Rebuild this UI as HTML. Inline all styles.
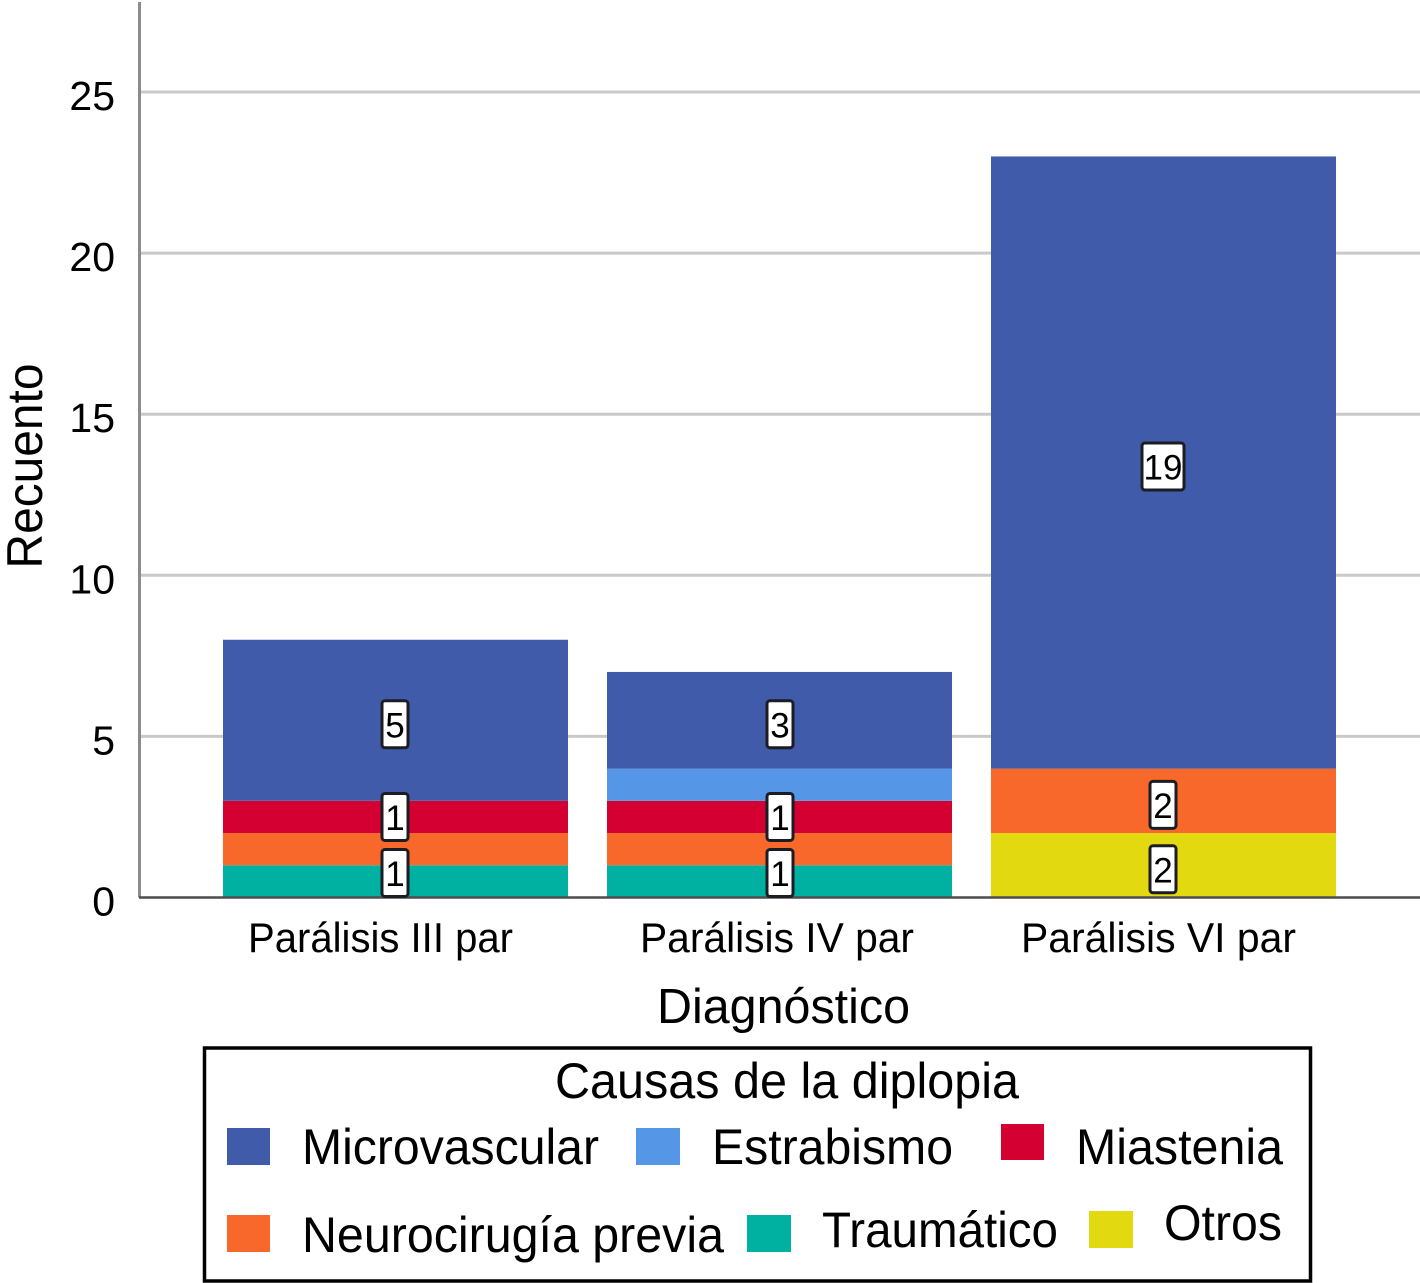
<!DOCTYPE html>
<html lang="es">
<head>
<meta charset="utf-8">
<title>Causas de la diplopia por diagnóstico</title>
<style>
html,body{margin:0;padding:0;background:#fff;}
svg{display:block;}
text{font-family:"Liberation Sans",sans-serif;fill:#000;}
</style>
</head>
<body>
<svg id="chart" width="1420" height="1283" viewBox="0 0 1420 1283" xmlns="http://www.w3.org/2000/svg">
  <g id="grid"></g>
  <g id="bars"></g>
  <g id="axes"></g>
  <g id="labels"></g>

  <text transform="translate(42,466) rotate(-90)" text-anchor="middle" font-size="50" textLength="205" lengthAdjust="spacingAndGlyphs">Recuento</text>
  <text x="783.5" y="1023" text-anchor="middle" font-size="49" textLength="253" lengthAdjust="spacingAndGlyphs">Diagnóstico</text>

  <g>
    <rect x="204.5" y="1048" width="1106" height="233" fill="#fff" stroke="#000" stroke-width="3.5"/>
    <text x="555" y="1098" font-size="50" textLength="464" lengthAdjust="spacingAndGlyphs">Causas de la diplopia</text>

    <g>
      <rect x="227" y="1128" width="43" height="37" fill="#3f5ba9"/>
      <text x="302" y="1164" font-size="50" textLength="297" lengthAdjust="spacingAndGlyphs">Microvascular</text>
    </g>
    <g>
      <rect x="636" y="1128" width="44" height="37" fill="#5596e6"/>
      <text x="712" y="1164" font-size="50" textLength="241" lengthAdjust="spacingAndGlyphs">Estrabismo</text>
    </g>
    <g>
      <rect x="1001" y="1124" width="43" height="36" fill="#d50032"/>
      <text x="1076" y="1164" font-size="50" textLength="207" lengthAdjust="spacingAndGlyphs">Miastenia</text>
    </g>
    <g>
      <rect x="227" y="1215" width="43" height="37" fill="#f7682a"/>
      <text x="302" y="1252" font-size="50" textLength="422" lengthAdjust="spacingAndGlyphs">Neurocirugía previa</text>
    </g>
    <g>
      <rect x="747" y="1215" width="44" height="37" fill="#00b0a0"/>
      <text x="822" y="1247" font-size="50" textLength="236" lengthAdjust="spacingAndGlyphs">Traumático</text>
    </g>
    <g>
      <rect x="1089" y="1211" width="44" height="37" fill="#e2d910"/>
      <text x="1164" y="1240" font-size="50" textLength="118" lengthAdjust="spacingAndGlyphs">Otros</text>
    </g>
  </g>
</svg>

<script>
// Data (stack order is bottom to top)
const categories = ["Parálisis III par", "Parálisis IV par", "Parálisis VI par"];
const yTicks = [0, 5, 10, 15, 20, 25];
const traumatico = [1, 1, 0];
const otros = [0, 0, 2];
const neurocirugia = [1, 1, 2];
const miastenia = [1, 1, 0];
const estrabismo = [0, 1, 0];
const microvascular = [5, 3, 19];
// Which printed values the original chart shows, per series and category
const showTraumatico = [true, true, false];
const showOtros = [false, false, true];
const showNeurocirugia = [false, false, true];
const showMiastenia = [true, true, false];
const showEstrabismo = [false, false, false];
const showMicrovascular = [true, true, true];

const series = [
  {name: "traumatico", values: traumatico, show: showTraumatico, color: "#00b0a0"},
  {name: "otros", values: otros, show: showOtros, color: "#e2d910"},
  {name: "neurocirugia", values: neurocirugia, show: showNeurocirugia, color: "#f7682a"},
  {name: "miastenia", values: miastenia, show: showMiastenia, color: "#d50032"},
  {name: "estrabismo", values: estrabismo, show: showEstrabismo, color: "#5596e6"},
  {name: "microvascular", values: microvascular, show: showMicrovascular, color: "#3f5ba9"}
];

// Axis functions
const NS = "http://www.w3.org/2000/svg";
const yBase = 897.5;
const unit = 32.22;
function yScale(v) { return yBase - v * unit; }
const barLeft = 223;
const barStep = 384;
const barWidth = 345;
function xScale(i) { return barLeft + i * barStep; }
function xCenter(i) { return xScale(i) + barWidth / 2; }

// Layout nudges matching the source: value-box and category-label placement per band
function boxShift(i) { return i === 0 ? -0.5 : (i === 1 ? 0.5 : -0.5); }
function catShift(i) { return i === 0 ? -15 : (i === 1 ? -2.5 : -5); }
function catWidth(i) { return i === 0 ? 265 : (i === 1 ? 274 : 275); }

function add(parent, tag, attrs) {
  const el = document.createElementNS(NS, tag);
  for (const k in attrs) el.setAttribute(k, attrs[k]);
  parent.appendChild(el);
  return el;
}

const gridG = document.getElementById("grid");
const barsG = document.getElementById("bars");
const axesG = document.getElementById("axes");
const labelsG = document.getElementById("labels");

// Gridlines and y tick labels
yTicks.forEach(function (t) {
  if (t !== 0) {
    const line = add(gridG, "line", {x1: 139, x2: 1420, y1: yScale(t), y2: yScale(t), stroke: "#c9c9c9", "stroke-width": 3});
    
    
  }
  const label = add(axesG, "text", {x: 115, y: yScale(t) + 18, "text-anchor": "end", "font-size": 41});
  
  
  label.textContent = t;
});

// Axis lines
const yAxis = add(axesG, "line", {x1: 139.5, x2: 139.5, y1: 2, y2: yBase, stroke: "#8c8c8c", "stroke-width": 3});



// Stacked bars and value labels
const pending = [];
categories.forEach(function (cat, i) {
  let cum = 0;
  series.forEach(function (s) {
    const v = s.values[i];
    if (v > 0) {
      const top = yScale(cum + v);
      const bottom = yScale(cum);
      const seg = add(barsG, "rect", {x: xScale(i), y: top, width: barWidth, height: bottom - top, fill: s.color});
      
      
      if (s.show[i]) {
        pending.push({i: i, v: v, mid: (top + bottom) / 2});
      }
    }
    cum += v;
  });
});

const baseline = add(axesG, "line", {x1: 139, x2: 1420, y1: yBase, y2: yBase, stroke: "#4d4d4d", "stroke-width": 2.5});



pending.forEach(function (p) {
  const boxH = 47;
  const text = String(p.v);
  const boxW = text.length > 1 ? 42 : 26;
  // Thin one-unit segments hold the box centred; taller ones sit slightly low
  const offset = p.v > 1 ? 4 : 0;
  const cy = Math.min(p.mid + offset, yBase - boxH / 2 - 1);
  const cx = xCenter(p.i) + boxShift(p.i);
  const box = add(labelsG, "rect", {x: cx - boxW / 2, y: cy - boxH / 2, width: boxW, height: boxH, rx: 3, ry: 3, fill: "#fff", stroke: "#1c1c24", "stroke-width": 3});
  
  
  const t = add(labelsG, "text", {x: cx, y: cy + 13, "text-anchor": "middle", "font-size": 35});
  
  
  t.textContent = text;
});

// Category labels
categories.forEach(function (cat, i) {
  const label = add(axesG, "text", {x: xCenter(i) + catShift(i), y: 952, "text-anchor": "middle", "font-size": 42, textLength: catWidth(i), lengthAdjust: "spacingAndGlyphs"});
  
  
  label.textContent = cat;
});
</script>
</body>
</html>
